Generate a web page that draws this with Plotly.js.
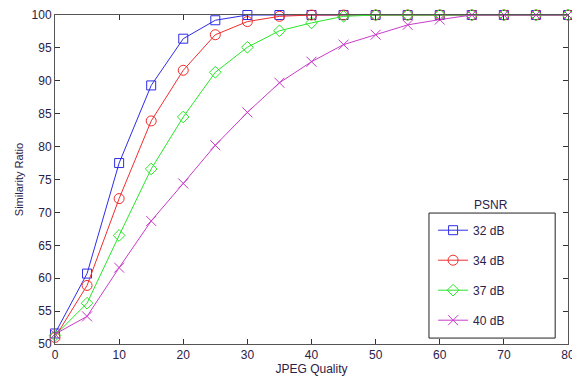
<!DOCTYPE html>
<html>
<head>
<meta charset="utf-8">
<script src="https://cdn.plot.ly/plotly-3.0.1.min.js"></script>
<style>html,body{margin:0;padding:0;background:#fff;}#chart{width:572px;height:380px;}</style>
</head>
<body>
<div id="chart"></div>
<script>
const quality = [0,5,10,15,20,25,30,35,40,45,50,55,60,65,70,75,80];
const psnr32 = [51.6,60.7,77.5,89.3,96.4,99.2,100,100,100,100,100,100,100,100,100,100,100];
const psnr34 = [51.0,58.9,72.1,83.9,91.6,97.0,99.0,99.8,100,100,100,100,100,100,100,100,100];
const psnr37 = [51.3,56.2,66.5,76.6,84.5,91.3,95.1,97.6,98.8,99.8,100,100,100,100,100,100,100];
const psnr40 = [51.5,54.2,61.6,68.7,74.4,80.2,85.2,89.7,92.9,95.5,97.0,98.5,99.3,100,100,100,100];
const seriesNames = ['32 dB','34 dB','37 dB','40 dB'];
const xTicks = [0,10,20,30,40,50,60,70,80];
const yTicks = [50,55,60,65,70,75,80,85,90,95,100];

const colors = ['rgb(45,45,230)','rgb(240,45,45)','rgb(40,230,40)','rgb(200,60,200)'];
const symbols = ['square-open','circle-open','diamond-open','x-thin-open'];
const sizes = [9,10,9,10];
const data = [psnr32, psnr34, psnr37, psnr40].map((ys,i)=>({
  x: quality, y: ys, name: seriesNames[i], type:'scatter', mode:'lines+markers',
  line:{color:colors[i], width:1},
  marker:{symbol:symbols[i], size:sizes[i], color:colors[i], line:{color:colors[i], width:1}},
  cliponaxis:false, legendgroup:'g'+i
}));

const txt = '#2a2148';
const layout = {
  width:572, height:380,
  margin:{l:55, r:4, t:15, b:36},
  paper_bgcolor:'#fff', plot_bgcolor:'#fff',
  font:{family:'Liberation Sans, Arial, sans-serif', size:12, color:txt},
  xaxis:{range:[0,80], tickvals:xTicks, ticks:'inside', ticklen:5, tickcolor:'#333',
    showline:true, linecolor:'#555', linewidth:1, mirror:'ticks', showgrid:false, zeroline:false,
    tickfont:{size:12, color:txt}, ticklabeloverflow:'allow',
    title:{text:'JPEG Quality', font:{size:12, color:txt}, standoff:3}},
  yaxis:{range:[50,100], tickvals:yTicks, ticks:'inside', ticklen:5, tickcolor:'#333',
    showline:true, linecolor:'#555', linewidth:1, mirror:'ticks', showgrid:false, zeroline:false,
    tickfont:{size:12, color:txt}, ticklabeloverflow:'allow',
    title:{text:'Similarity Ratio', font:{size:11, color:txt}, standoff:5}},
  legend:{x:0.737, y:0.39, xanchor:'left', yanchor:'top', bgcolor:'rgba(0,0,0,0)',
    borderwidth:0, font:{size:12, color:txt}, tracegroupgap:11},
  shapes:[{type:'rect', xref:'paper', yref:'paper', x0:0.729, x1:0.975, y0:0.018, y1:0.398,
    line:{color:'#222', width:1}, fillcolor:'#fff', layer:'above'}],
  annotations:[{text:'PSNR', xref:'paper', yref:'paper', x:0.85, y:0.423, showarrow:false,
    xanchor:'center', yanchor:'middle', font:{size:12, color:txt}}],
  showlegend:true
};
Plotly.newPlot('chart', data, layout, {displayModeBar:false, staticPlot:true});
</script>
</body>
</html>
